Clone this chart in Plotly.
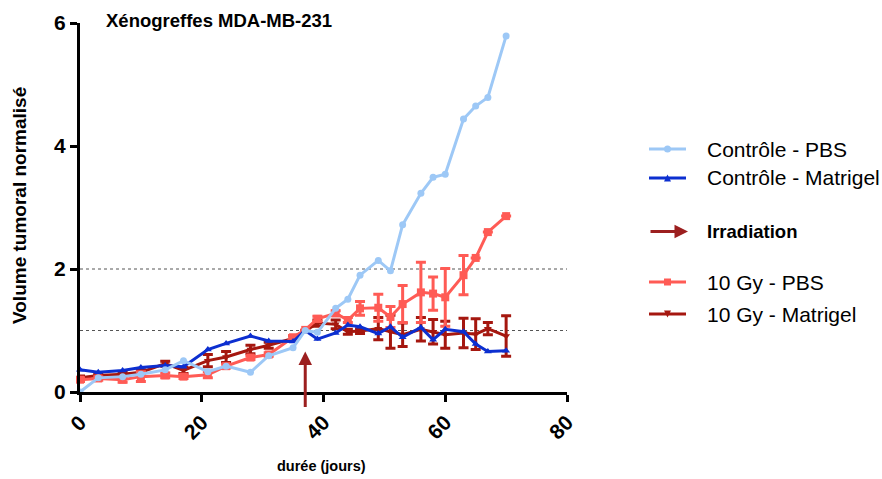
import plotly.graph_objects as go

# ---------------- data ----------------
days = [0, 3, 7, 10, 14, 17, 21, 24, 28, 31, 35, 37, 39, 42, 44, 46,
        49, 51, 53, 56, 58, 60, 63, 65, 67, 70]

ctrl_pbs = [0.0, 0.23, 0.25, 0.29, 0.36, 0.51, 0.33, 0.42, 0.32, 0.59, 0.72, 1.0,
            0.97, 1.36, 1.51, 1.90, 2.14, 1.97, 2.72, 3.23, 3.49, 3.54, 4.44, 4.65,
            4.79, 5.79]

ctrl_mat = [0.36, 0.32, 0.35, 0.40, 0.43, 0.41, 0.69, 0.79, 0.91, 0.83, 0.82, 1.0,
            0.86, 0.96, 1.09, 1.06, 0.95, 1.06, 0.89, 1.05, 0.85, 1.02, 0.98, 0.78,
            0.66, 0.67]

gy_pbs = [0.20, 0.22, 0.20, 0.25, 0.27, 0.25, 0.28, 0.42, 0.56, 0.61, 0.89, 1.01,
          1.19, 1.28, 1.17, 1.36, 1.37, 1.22, 1.43, 1.62, 1.60, 1.54, 1.90, 2.18,
          2.60, 2.86]
gy_pbs_err = [0.03, 0.03, 0.04, 0.08, 0.04, 0.03, 0.05, 0.03, 0.03, 0.03, 0.03, 0.0,
              0.04, 0.04, 0.04, 0.11, 0.22, 0.17, 0.30, 0.49, 0.27, 0.47, 0.32, 0.0,
              0.0, 0.0]

gy_mat = [0.23, 0.27, 0.29, 0.32, 0.46, 0.35, 0.51, 0.57, 0.69, 0.76, 0.87, 1.0,
          1.12, 1.10, 0.98, 0.99, 1.03, 0.98, 0.93, 1.02, 0.98, 0.93, 0.96, 0.94,
          1.03, 0.91]
gy_mat_err = [0.03, 0.03, 0.03, 0.04, 0.04, 0.05, 0.10, 0.09, 0.07, 0.05, 0.04, 0.0,
              0.05, 0.07, 0.04, 0.04, 0.18, 0.27, 0.19, 0.19, 0.20, 0.22, 0.24, 0.25,
              0.10, 0.33]

irradiation_day = 37
guide_levels = [1, 2]
x_ticks = [0, 20, 40, 60, 80]
y_ticks = [0, 2, 4, 6]

names = ["Contrôle - PBS", "Contrôle - Matrigel", "Irradiation",
         "10 Gy - PBS", "10 Gy - Matrigel"]

# ---------------- styles ----------------
C_LBLUE = "#9DC8F6"
C_DBLUE = "#0C2FD0"
C_SALMON = "#FF5B55"
C_DRED = "#A5170F"
C_ARROW = "#9C1F1F"
FONT = "Liberation Sans, Arial, sans-serif"

W, H = 882, 479
L, R, T, B = 80, 315, 23, 87
PW, PH = W - L - R, H - T - B


def px(xp):
    return (xp - L) / PW


def py(yp):
    return (H - B - yp) / PH


fig = go.Figure()

fig.add_trace(go.Scatter(
    x=days, y=gy_mat, mode="lines+markers", name=names[4],
    line=dict(color=C_DRED, width=3),
    marker=dict(symbol="triangle-down", size=7, color=C_DRED),
    error_y=dict(type="data", array=gy_mat_err, color=C_DRED, thickness=3, width=5),
    cliponaxis=False, showlegend=False))

fig.add_trace(go.Scatter(
    x=days, y=gy_pbs, mode="lines+markers", name=names[3],
    line=dict(color=C_SALMON, width=3),
    marker=dict(symbol="square", size=8, color=C_SALMON),
    error_y=dict(type="data", array=gy_pbs_err, color=C_SALMON, thickness=3, width=5),
    cliponaxis=False, showlegend=False))

fig.add_trace(go.Scatter(
    x=days, y=ctrl_mat, mode="lines+markers", name=names[1],
    line=dict(color=C_DBLUE, width=3),
    marker=dict(symbol="triangle-up", size=7, color=C_DBLUE),
    cliponaxis=False, showlegend=False))

fig.add_trace(go.Scatter(
    x=days, y=ctrl_pbs, mode="lines+markers", name=names[0],
    line=dict(color=C_LBLUE, width=3),
    marker=dict(symbol="circle", size=7, color=C_LBLUE),
    cliponaxis=False, showlegend=False))

shapes = []
for lv in guide_levels:
    shapes.append(dict(type="line", xref="x", yref="y", x0=x_ticks[0], x1=x_ticks[-1],
                       y0=lv, y1=lv, line=dict(color="#555555", width=1, dash="dot"),
                       layer="below"))

annotations = []
# irradiation arrow in plot
annotations.append(dict(x=irradiation_day, y=0.66, xref="x", yref="y",
                        ax=irradiation_day, ay=-0.27, axref="x", ayref="y",
                        text="", showarrow=True, arrowhead=2, arrowsize=0.9,
                        arrowwidth=3, arrowcolor=C_ARROW))

# title & axis titles
annotations.append(dict(x=px(104), y=py(20), xref="paper", yref="paper",
                        text="Xénogreffes MDA-MB-231", showarrow=False,
                        xanchor="left", yanchor="middle",
                        font=dict(family=FONT, size=18.5, color="black", weight="bold")))
annotations.append(dict(x=px(19), y=py(206), xref="paper", yref="paper",
                        text="Volume tumoral normalisé", showarrow=False, textangle=-90,
                        xanchor="center", yanchor="middle",
                        font=dict(family=FONT, size=19, color="black", weight="bold")))
annotations.append(dict(x=px(321), y=py(466), xref="paper", yref="paper",
                        text="durée (jours)", showarrow=False,
                        xanchor="center", yanchor="middle",
                        font=dict(family=FONT, size=14.5, color="black", weight="bold")))

# manual legend
lx0, lx1, lxm, ltx = px(649), px(686), px(667.5), px(705)
rows = [149, 178, 231.5, 282, 314]
colors = [C_LBLUE, C_DBLUE, C_ARROW, C_SALMON, C_DRED]
for i, (name, yp, col) in enumerate(zip(names, rows, colors)):
    yy = py(yp)
    if i == 2:
        annotations.append(dict(x=px(688), y=yy, xref="paper", yref="paper",
                                ax=-39, ay=0, text="", showarrow=True, arrowhead=2,
                                arrowsize=0.9, arrowwidth=3, arrowcolor=col))
    else:
        shapes.append(dict(type="line", xref="paper", yref="paper", x0=lx0, x1=lx1,
                           y0=yy, y1=yy, line=dict(color=col, width=3)))
        dx, dy = 3.5 / PW, 3.5 / PH
        if i == 0:
            shapes.append(dict(type="circle", xref="paper", yref="paper",
                               x0=lxm - dx, x1=lxm + dx, y0=yy - dy, y1=yy + dy,
                               fillcolor=col, line=dict(width=0)))
        elif i == 3:
            shapes.append(dict(type="rect", xref="paper", yref="paper",
                               x0=lxm - dx, x1=lxm + dx, y0=yy - dy, y1=yy + dy,
                               fillcolor=col, line=dict(width=0)))
        elif i == 1:
            shapes.append(dict(type="path", xref="paper", yref="paper",
                               path=f"M {lxm-dx} {yy-dy} L {lxm+dx} {yy-dy} L {lxm} {yy+dy} Z",
                               fillcolor=col, line=dict(width=0)))
        else:
            shapes.append(dict(type="path", xref="paper", yref="paper",
                               path=f"M {lxm-dx} {yy+dy} L {lxm+dx} {yy+dy} L {lxm} {yy-dy} Z",
                               fillcolor=col, line=dict(width=0)))
    annotations.append(dict(x=ltx, y=yy, xref="paper", yref="paper", text=name,
                            showarrow=False, xanchor="left", yanchor="middle",
                            font=dict(family=FONT, size=21 if i != 2 else 18.5, color="black",
                                      weight="bold" if i == 2 else "normal")))

fig.update_layout(
    width=W, height=H,
    margin=dict(l=L, r=R, t=T, b=B),
    plot_bgcolor="white", paper_bgcolor="white",
    showlegend=False,
    shapes=shapes, annotations=annotations,
    xaxis=dict(range=[x_ticks[0], x_ticks[-1]], tickvals=x_ticks, tickangle=-45,
               showline=True, linecolor="black", linewidth=3, showgrid=False,
               zeroline=False, ticks="outside", ticklen=7, tickwidth=3,
               tickcolor="black",
               tickfont=dict(family=FONT, size=21, color="black", weight="bold")),
    yaxis=dict(range=[y_ticks[0], y_ticks[-1]], tickvals=y_ticks,
               showline=True, linecolor="black", linewidth=3, showgrid=False,
               zeroline=False, ticks="outside", ticklen=7, tickwidth=3,
               tickcolor="black",
               tickfont=dict(family=FONT, size=21, color="black", weight="bold")),
)

fig.write_html("out.html", config={"displayModeBar": False},
               post_script="document.body.style.margin='0px';")
